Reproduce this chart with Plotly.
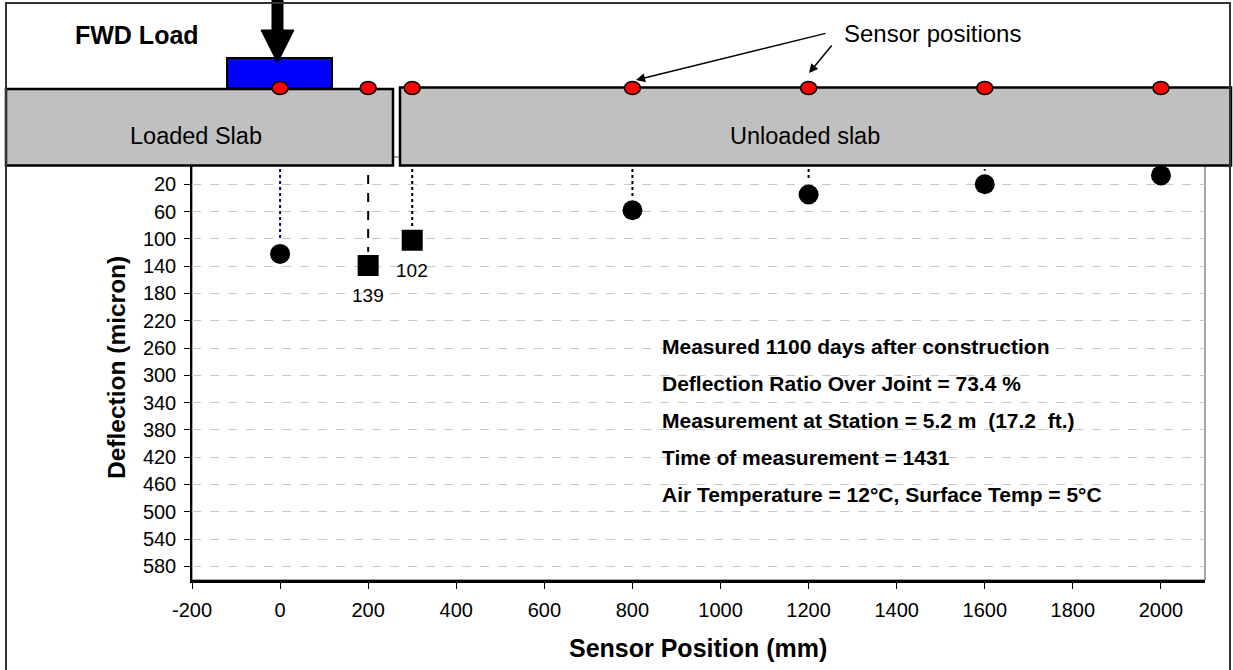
import plotly.graph_objects as go

# ---------------- data ----------------
sensor_pos = [0, 200, 300, 800, 1200, 1600, 2000]          # mm
deflection = [122, 139, 102, 58, 35, 20, 7]                # micron
marker_kind = ["circle", "square", "square", "circle", "circle", "circle", "circle"]
labelled = [False, True, True, False, False, False, False]
x_ticks = [-200, 0, 200, 400, 600, 800, 1000, 1200, 1400, 1600, 1800, 2000]
y_ticks = [20, 60, 100, 140, 180, 220, 260, 300, 340, 380, 420, 460, 500, 540, 580]
info_lines = [
    "Measured 1100 days after construction",
    "Deflection Ratio Over Joint = 73.4 %",
    "Measurement at Station = 5.2 m  (17.2  ft.)",
    "Time of measurement = 1431",
    "Air Temperature = 12°C, Surface Temp = 5°C",
]

# ---------------- geometry helpers (pixel -> paper) ----------------
W, H = 1233, 670
L, R, T, B = 192, 1205, 157, 580


def px(x):
    return (x - L) / (R - L)


def py(y):
    return (B - y) / (B - T)


FONT = "Arial, Liberation Sans, sans-serif"
fig = go.Figure()

# drop lines from the sensors to the measured deflection
drop_styles = [("#000080", "dot"), ("black", "dash")] + [("black", "dot")] * 5
for p, d, (c, dash) in zip(sensor_pos, deflection, drop_styles):
    fig.add_trace(go.Scatter(x=[p, p], y=[-20, d - 20], mode="lines",
                             line=dict(color=c, dash=dash, width=2),
                             hoverinfo="skip"))

# measured deflections
for kind, size in (("circle", 20), ("square", 21)):
    xs = [p for p, k in zip(sensor_pos, marker_kind) if k == kind]
    ys = [d for d, k in zip(deflection, marker_kind) if k == kind]
    fig.add_trace(go.Scatter(x=xs, y=ys, mode="markers",
                             marker=dict(symbol=kind, size=size, color="black",
                                         line=dict(width=0))))

annotations = []


def text_ann(x, y, text, size, xanchor="center", **kw):
    d = dict(x=px(x), y=py(y), xref="paper", yref="paper", text=text,
             xanchor=xanchor, yanchor="middle", showarrow=False,
             font=dict(size=size, color="black", family=FONT))
    d.update(kw)
    return d


for p, d, lab in zip(sensor_pos, deflection, labelled):
    if lab:
        annotations.append(dict(x=p, y=d, xref="x", yref="y", text=str(d),
                                xanchor="center", yanchor="middle",
                                showarrow=False, yshift=-30,
                                font=dict(size=19, color="black", family=FONT)))

# axis titles
annotations.append(text_ann(116, 368, "<b>Deflection (micron)</b>", 24.5, textangle=-90))
annotations.append(text_ann(698, 648, "<b>Sensor Position (mm)</b>", 25))

# drawing texts
annotations.append(text_ann(73, 35, "<b>FWD Load</b>", 25, xanchor="left"))
annotations.append(text_ann(196, 136, "Loaded Slab", 23.5))
annotations.append(text_ann(805, 136, "Unloaded slab", 23.5))
annotations.append(text_ann(842, 34, "Sensor positions", 24, xanchor="left"))

# pointer arrows
for (tx, ty), (hx, hy) in (((827, 33), (636, 80)), ((833, 44), (809, 73))):
    annotations.append(dict(x=px(hx), y=py(hy), xref="paper", yref="paper",
                            ax=tx - hx, ay=ty - hy, text="", showarrow=True,
                            arrowhead=2, arrowsize=1.2, arrowwidth=1.5,
                            arrowcolor="black"))

# info block
for i, line in enumerate(info_lines):
    annotations.append(text_ann(660, 346 + 37 * i, "<b>" + line + "</b>", 21,
                                xanchor="left"))

# ---------------- shapes ----------------
shapes = []
# plot-area border
shapes.append(dict(type="rect", xref="paper", yref="paper", x0=0, x1=1, y0=0, y1=1,
                   line=dict(color="#4d4d4d", width=1), layer="below"))
# slabs
shapes.append(dict(type="rect", xref="paper", yref="paper",
                   x0=px(6), x1=px(393), y0=py(165.5), y1=py(89),
                   fillcolor="#C0C0C0", line=dict(color="black", width=2.5), layer="above"))
shapes.append(dict(type="rect", xref="paper", yref="paper",
                   x0=px(400), x1=px(1231), y0=py(165.5), y1=py(87.5),
                   fillcolor="#C0C0C0", line=dict(color="black", width=2.5), layer="above"))
# load plate
shapes.append(dict(type="rect", xref="paper", yref="paper",
                   x0=px(227), x1=px(332), y0=py(88), y1=py(58),
                   fillcolor="#0000FF", line=dict(color="black", width=2), layer="above"))
# load arrow
pts = [(272, -2), (283, -2), (283, 30), (294, 30), (277.5, 63), (261, 30), (272, 30)]
path = "M " + " L ".join(f"{px(a):.5f},{py(b):.5f}" for a, b in pts) + " Z"
shapes.append(dict(type="path", xref="paper", yref="paper", path=path,
                   fillcolor="black", line=dict(color="black", width=1), layer="above"))
# sensors (red ellipses on slab surface)
for p in sensor_pos:
    shapes.append(dict(type="circle", xref="x", yref="paper",
                       xsizemode="pixel", xanchor=p, x0=-8, x1=8,
                       ysizemode="pixel", yanchor=py(88), y0=-6.5, y1=6.5,
                       fillcolor="#FF0000", line=dict(color="black", width=1.5),
                       layer="above"))
# outer border
shapes.append(dict(type="rect", xref="paper", yref="paper",
                   x0=px(6), x1=px(1230), y0=py(675), y1=py(3),
                   line=dict(color="#333333", width=2), layer="above"))

fig.update_layout(
    width=W, height=H,
    margin=dict(l=L, r=W - R, t=T, b=H - B, pad=0),
    paper_bgcolor="white", plot_bgcolor="white",
    showlegend=False,
    font=dict(family=FONT, color="black"),
    annotations=annotations,
    shapes=shapes,
    xaxis=dict(range=[-200, 2100], tickvals=x_ticks, ticktext=[str(v) for v in x_ticks],
               ticks="outside", ticklen=6, tickcolor="black", tickwidth=1,
               showline=True, linecolor="black", linewidth=2.5,
               showgrid=False, zeroline=False, ticklabelstandoff=4,
               tickfont=dict(size=20, color="black", family=FONT)),
    yaxis=dict(range=[600, -20], tickvals=y_ticks, ticktext=[str(v) for v in y_ticks],
               ticks="outside", ticklen=6, tickcolor="black", tickwidth=1,
               showline=True, linecolor="black", linewidth=1.5,
               showgrid=True, gridcolor="#C8C8C8", griddash="dash", gridwidth=1,
               zeroline=False, ticklabelstandoff=4,
               tickfont=dict(size=20, color="black", family=FONT)),
)

fig.write_html("out.html", config={"displayModeBar": False},
               post_script="document.body.style.margin='0';document.body.style.overflow='hidden';")
